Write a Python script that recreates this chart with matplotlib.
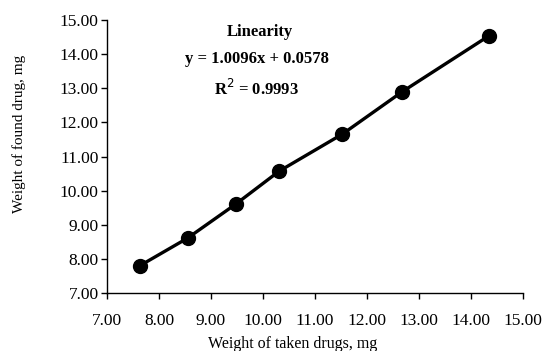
import matplotlib.pyplot as plt

# weight of drug taken vs found, mg
taken = [7.63, 8.55, 9.48, 10.31, 11.53, 12.68, 14.34]
found = [7.80, 8.61, 9.61, 10.57, 11.66, 12.90, 14.53]

ticks = [7, 8, 9, 10, 11, 12, 13, 14, 15]

plt.rcParams["font.family"] = ["Liberation Serif", "DejaVu Serif"]

fig = plt.figure(figsize=(5.43, 3.51), dpi=100)
ax = fig.add_axes([0.197, 0.165, 0.766, 0.778])

ax.plot(taken, found, color="black", linewidth=2.4, marker="o",
        markersize=10, markerfacecolor="black", markeredgecolor="black")

ax.set_xlim(7, 15)
ax.set_ylim(7, 15)
ax.set_xticks(ticks)
ax.set_yticks(ticks)
ax.set_xticklabels([f"{t:.2f}" for t in ticks], fontsize=12.5)
ax.set_yticklabels([f"{t:.2f}" for t in ticks], fontsize=12.5)
ax.tick_params(direction="out", length=4, width=1)
ax.tick_params(axis="x", pad=10)
ax.tick_params(axis="y", pad=2)

for s in ["top", "right"]:
    ax.spines[s].set_visible(False)
for s in ["left", "bottom"]:
    ax.spines[s].set_linewidth(1)

ax.set_xlabel("Weight of taken drugs, mg", fontsize=11.5)
ax.set_ylabel("Weight of found drug, mg", fontsize=11)
ax.xaxis.set_label_coords(0.447, -0.158)
ax.yaxis.set_label_coords(-0.195, 0.582)

ax.text(0.367, 0.985, "Linearity", transform=ax.transAxes, ha="center",
        va="top", fontsize=12, fontweight="bold")
ax.text(0.36, 0.885, "y = 1.0096x + 0.0578", transform=ax.transAxes,
        ha="center", va="top", fontsize=12, fontweight="bold")
ax.text(0.36, 0.785, "R$^2$ = 0.9993", transform=ax.transAxes,
        ha="center", va="top", fontsize=12, fontweight="bold")

plt.savefig("out.png", dpi=100)
